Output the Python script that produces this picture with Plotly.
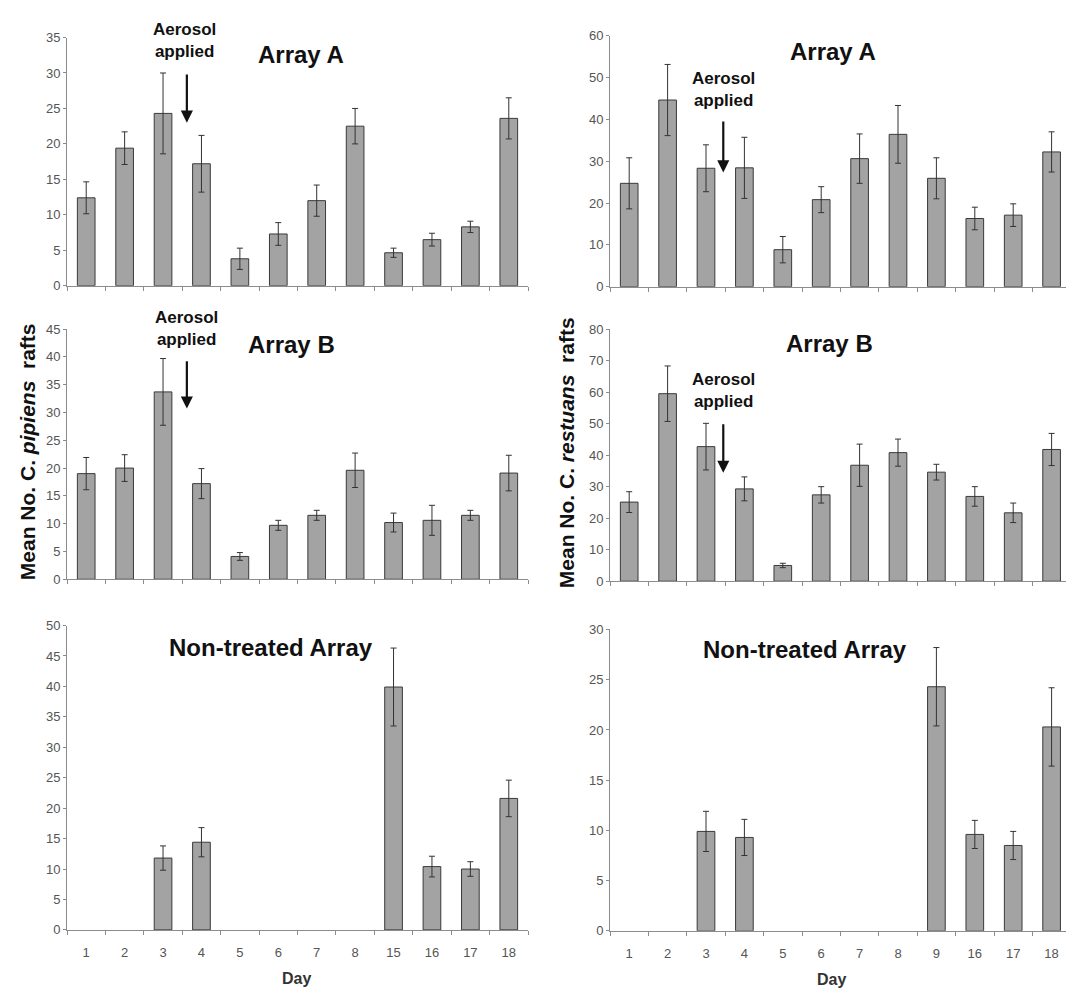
import plotly.graph_objects as go

W, H = 1066, 996

# ---------------- data ----------------
days_left = ["1", "2", "3", "4", "5", "6", "7", "8", "15", "16", "17", "18"]
days_right = ["1", "2", "3", "4", "5", "6", "7", "8", "9", "16", "17", "18"]

pip_A = [12.4, 19.4, 24.3, 17.2, 3.8, 7.3, 12.0, 22.5, 4.65, 6.5, 8.3, 23.6]
pip_A_err = [2.25, 2.3, 5.7, 4.0, 1.5, 1.6, 2.2, 2.5, 0.65, 0.9, 0.8, 2.9]
res_A = [24.7, 44.6, 28.3, 28.4, 8.85, 20.8, 30.6, 36.4, 25.9, 16.3, 17.1, 32.2]
res_A_err = [6.1, 8.5, 5.6, 7.3, 3.15, 3.1, 5.9, 6.9, 4.9, 2.7, 2.7, 4.8]

pip_B = [19.0, 20.0, 33.7, 17.2, 4.1, 9.7, 11.5, 19.6, 10.2, 10.6, 11.5, 19.1]
pip_B_err = [2.9, 2.4, 6.0, 2.7, 0.7, 0.9, 0.9, 3.1, 1.7, 2.7, 0.9, 3.2]
res_B = [25.1, 59.5, 42.7, 29.3, 5.0, 27.4, 36.8, 40.8, 34.6, 26.9, 21.7, 41.8]
res_B_err = [3.3, 8.8, 7.4, 3.8, 0.7, 2.6, 6.7, 4.3, 2.5, 3.1, 3.1, 5.1]

pip_N = [0, 0, 11.8, 14.4, 0, 0, 0, 0, 39.9, 10.4, 10.0, 21.6]
pip_N_err = [0, 0, 2.0, 2.4, 0, 0, 0, 0, 6.4, 1.7, 1.2, 3.0]
res_N = [0, 0, 9.9, 9.3, 0, 0, 0, 0, 24.3, 9.6, 8.5, 20.3]
res_N_err = [0, 0, 2.0, 1.8, 0, 0, 0, 0, 3.9, 1.4, 1.4, 3.9]

y_max = [35, 60, 45, 80, 50, 30]
y_step = [5, 10, 5, 10, 5, 5]
titles = ["Array A", "Array A", "Array B", "Array B", "Non-treated Array", "Non-treated Array"]

# arrow (category position, tail value, tip value) for the treated arrays
arrows = {0: (2.62, 30.0, 23.0), 1: (2.45, 39.8, 27.3), 2: (2.62, 39.5, 30.7), 3: (2.45, 50.3, 34.4)}

# ---------------- layout geometry (pixels) ----------------
LEFT_X = (67, 528)
RIGHT_X = (610, 1066)
panels_px = [
    (LEFT_X, (31, 283)),
    (RIGHT_X, (29, 284)),
    (LEFT_X, (327, 581)),
    (RIGHT_X, (327, 583)),
    (LEFT_X, (628, 937)),
    (RIGHT_X, (632, 938)),
]
title_px = [(301, 48), (833, 45), (291, 343), (829, 342), (271, 650), (805, 652)]
aero_px = [(184, 34), (723, 84), (186, 326), (723, 389)]

series = [
    (days_left, pip_A, pip_A_err),
    (days_right, res_A, res_A_err),
    (days_left, pip_B, pip_B_err),
    (days_right, res_B, res_B_err),
    (days_left, pip_N, pip_N_err),
    (days_right, res_N, res_N_err),
]

FONT = "Liberation Sans, Arial, sans-serif"
BAR_FILL = "#a3a3a3"
BAR_EDGE = "#3a3a3a"
AXIS_COL = "#8c8c8c"
TICK_FONT = dict(family=FONT, size=13, color="#555555")

fig = go.Figure()
annotations = []

for i, ((cats, vals, errs), ((x0, x1), (ytop, ybot))) in enumerate(zip(series, panels_px)):
    n = i + 1
    xa = "x" if n == 1 else f"x{n}"
    ya = "y" if n == 1 else f"y{n}"
    # zero-count days show no bar (and no error bar) in the original
    shown = [v if v else None for v in vals]
    fig.add_trace(go.Bar(
        x=cats, y=shown, width=0.46,
        marker=dict(color=BAR_FILL, line=dict(color=BAR_EDGE, width=1)),
        error_y=dict(type="data", array=errs, visible=True, color="#333333", thickness=1, width=3),
        xaxis=xa, yaxis=ya, showlegend=False,
    ))
    right = (x0 == RIGHT_X[0])
    # right-hand panels are truncated by the image edge
    xrange = [-0.5, -0.5 + (x1 - x0) / 38.4] if right else [-0.5, 11.5]
    bottom = n >= 5
    fig.layout[f"xaxis{'' if n == 1 else n}"] = dict(
        domain=[x0 / W, x1 / W], anchor=ya, type="category",
        categoryorder="array", categoryarray=cats,
        range=xrange, showline=True, linecolor=AXIS_COL, linewidth=1,
        ticks="outside", tickson="boundaries", ticklen=4, tickcolor=AXIS_COL,
        showticklabels=bottom, tickfont=TICK_FONT, ticklabelstandoff=11,
        showgrid=False, zeroline=False, fixedrange=True,
    )
    fig.layout[f"yaxis{'' if n == 1 else n}"] = dict(
        domain=[1 - ybot / H, 1 - ytop / H], anchor=xa,
        range=[0, y_max[i]], dtick=y_step[i], tick0=0,
        showline=True, linecolor=AXIS_COL, linewidth=1,
        ticks="outside", ticklen=3, tickcolor=AXIS_COL,
        tickfont=TICK_FONT, showgrid=False, zeroline=False, fixedrange=True,
    )
    tx, ty = title_px[i]
    annotations.append(dict(
        text=f"<b>{titles[i]}</b>", x=tx / W, y=1 - ty / H, xref="paper", yref="paper",
        showarrow=False, xanchor="center", yanchor="middle",
        font=dict(family=FONT, size=24, color="#111111"),
    ))
    if i in arrows:
        cx, tail, tip = arrows[i]
        annotations.append(dict(
            x=cx, y=tip, ax=cx, ay=tail, xref=xa, yref=ya, axref=xa, ayref=ya,
            showarrow=True, arrowhead=2, arrowsize=1.1, arrowwidth=2.2,
            arrowcolor="#111111", text="",
        ))
        axp, ayp = aero_px[i]
        annotations.append(dict(
            text="<b>Aerosol<br>applied</b>", x=axp / W, y=1 - ayp / H, xref="paper", yref="paper",
            showarrow=False, xanchor="center", yanchor="middle",
            font=dict(family=FONT, size=17, color="#111111"),
        ))

# y-axis titles
annotations.append(dict(
    text="<b>Mean No. C. <i>pipiens</i>  rafts</b>", x=27 / W, y=1 - 452 / H,
    xref="paper", yref="paper", textangle=-90, showarrow=False,
    xanchor="center", yanchor="middle", font=dict(family=FONT, size=21, color="#111111"),
))
annotations.append(dict(
    text="<b>Mean No. C. <i>restuans</i>  rafts</b>", x=566 / W, y=1 - 453 / H,
    xref="paper", yref="paper", textangle=-90, showarrow=False,
    xanchor="center", yanchor="middle", font=dict(family=FONT, size=21, color="#111111"),
))
# x-axis titles
for dx, dy in [(296, 986), (831, 987)]:
    annotations.append(dict(
        text="<b>Day</b>", x=dx / W, y=1 - dy / H, xref="paper", yref="paper",
        showarrow=False, xanchor="center", yanchor="middle",
        font=dict(family=FONT, size=16, color="#333333"),
    ))

fig.update_layout(
    width=W, height=H, margin=dict(l=0, r=0, t=0, b=0),
    paper_bgcolor="white", plot_bgcolor="white",
    annotations=annotations, bargap=0.54,
)

fig.write_html("out.html", config={"displayModeBar": False})
